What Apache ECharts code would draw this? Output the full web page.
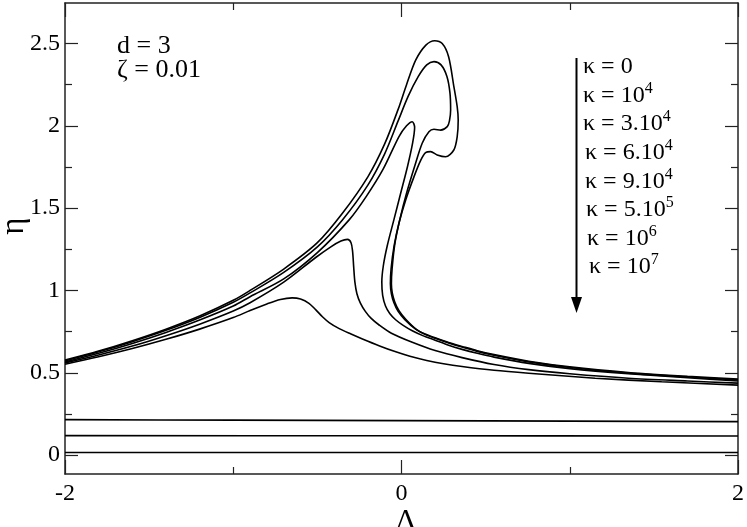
<!DOCTYPE html>
<html>
<head>
<meta charset="utf-8">
<script src="https://cdn.jsdelivr.net/npm/echarts@6/dist/echarts.min.js"></script>
<style>html,body{margin:0;padding:0;background:#fff;}#c{width:747px;height:527px;}</style>
</head>
<body>
<div id="c"></div>
<script>
// ---- data (x = Λ, y = η) ----
var kappa0 = [[-2,0.577],[-1.8,0.632],[-1.6,0.695],[-1.4,0.765],[-1.2,0.845],[-1.0,0.94],[-0.9,1.0],[-0.7,1.13],[-0.5,1.29],[-0.35,1.47],[-0.2,1.69],[-0.1,1.89],[-0.02,2.1],[0.03,2.25],[0.085,2.40],[0.145,2.49],[0.197,2.517],[0.242,2.50],[0.28,2.42],[0.311,2.24],[0.331,2.116],[0.337,2.035],[0.331,1.934],[0.311,1.853],[0.262,1.812],[0.212,1.823],[0.173,1.843],[0.143,1.837],[0.114,1.79],[0.074,1.69],[0.025,1.55],[-0.015,1.41],[-0.044,1.27],[-0.062,1.13],[-0.066,1.04],[-0.06,0.98],[-0.045,0.925],[-0.02,0.873],[0.02,0.823],[0.084,0.765],[0.14,0.735],[0.2,0.712],[0.28,0.684],[0.36,0.66],[0.45,0.634],[0.55,0.61],[0.756,0.57],[1.0,0.536],[1.348,0.502],[1.7,0.478],[2,0.462]];
var kappa1e4 = [[-2,0.572],[-1.8,0.627],[-1.6,0.689],[-1.4,0.758],[-1.2,0.836],[-1.0,0.928],[-0.9,0.985],[-0.7,1.11],[-0.5,1.265],[-0.35,1.43],[-0.2,1.64],[-0.1,1.83],[-0.02,2.03],[0.04,2.18],[0.1,2.3],[0.15,2.37],[0.193,2.39],[0.235,2.37],[0.27,2.30],[0.288,2.2],[0.292,2.096],[0.285,2.03],[0.272,1.995],[0.233,1.974],[0.193,1.979],[0.163,1.964],[0.123,1.894],[0.08,1.76],[0.03,1.59],[-0.01,1.43],[-0.04,1.28],[-0.056,1.13],[-0.06,1.04],[-0.055,0.985],[-0.04,0.93],[-0.015,0.877],[0.025,0.825],[0.09,0.762],[0.14,0.733],[0.2,0.709],[0.28,0.681],[0.36,0.656],[0.45,0.63],[0.55,0.606],[0.756,0.566],[1.0,0.532],[1.348,0.498],[1.7,0.474],[2,0.457]];
var kappa3e4 = [[-2,0.565],[-1.8,0.618],[-1.6,0.678],[-1.4,0.745],[-1.2,0.82],[-1.0,0.905],[-0.9,0.962],[-0.7,1.07],[-0.5,1.23],[-0.31,1.43],[-0.21,1.57],[-0.11,1.735],[-0.015,1.935],[0.03,2.0],[0.064,2.025],[0.078,1.99],[0.065,1.89],[0.035,1.75],[-0.005,1.59],[-0.045,1.43],[-0.085,1.27],[-0.108,1.15],[-0.117,1.05],[-0.112,0.97],[-0.095,0.905],[-0.07,0.86],[-0.035,0.822],[0.01,0.788],[0.064,0.755],[0.13,0.724],[0.2,0.698],[0.28,0.667],[0.36,0.642],[0.45,0.618],[0.55,0.595],[0.756,0.557],[1.0,0.525],[1.348,0.494],[1.7,0.47],[2,0.45]];
var kappa6e4 = [[-2,0.56],[-1.8,0.608],[-1.6,0.662],[-1.4,0.725],[-1.2,0.795],[-1.0,0.875],[-0.9,0.925],[-0.7,1.05],[-0.51,1.2],[-0.42,1.265],[-0.36,1.3],[-0.321,1.31],[-0.3,1.29],[-0.291,1.24],[-0.284,1.14],[-0.277,1.05],[-0.265,0.98],[-0.245,0.925],[-0.215,0.873],[-0.18,0.83],[-0.133,0.79],[-0.06,0.74],[0.064,0.685],[0.2,0.635],[0.36,0.592],[0.55,0.55],[0.756,0.519],[1.0,0.494],[1.348,0.467],[1.7,0.45],[2,0.437]];
var kappa9e4 = [[-2,0.552],[-1.8,0.597],[-1.6,0.647],[-1.4,0.703],[-1.2,0.765],[-1.0,0.835],[-0.9,0.878],[-0.8,0.918],[-0.72,0.945],[-0.65,0.955],[-0.6,0.948],[-0.55,0.922],[-0.509,0.882],[-0.47,0.84],[-0.43,0.805],[-0.37,0.768],[-0.3,0.735],[-0.232,0.705],[-0.13,0.663],[-0.034,0.627],[0.05,0.6],[0.15,0.575],[0.25,0.555],[0.36,0.538],[0.55,0.515],[0.756,0.497],[1.151,0.467],[1.546,0.445],[2,0.425]];
var kappa5e5 = [[-2,0.215],[-1,0.212],[0,0.209],[1,0.206],[2,0.203]];
var kappa1e6 = [[-2,0.118],[0,0.117],[2,0.116]];
var kappa1e7 = [[-2,0.016],[0,0.016],[2,0.016]];

var xMajorTicks = [-2, 0, 2];
var xMinorTicks = [-1, 1];
var yMajorTicks = [0, 0.5, 1, 1.5, 2, 2.5];
var yMinorTicks = [0.25, 0.75, 1.25, 1.75, 2.25];
var kappaLabels = [['κ = 0',''],['κ = 10','4'],['κ = 3.10','4'],['κ = 6.10','4'],['κ = 9.10','4'],['κ = 5.10','5'],['κ = 10','6'],['κ = 10','7']];
var infoLabels = ['d = 3', 'ζ = 0.01'];

var seriesList = [kappa0, kappa1e4, kappa3e4, kappa6e4, kappa9e4, kappa5e5, kappa1e6, kappa1e7];

var FONT = '"Liberation Serif","Times New Roman",serif';
var X_MIN = -2, X_MAX = 2, Y_MIN = -0.115, Y_MAX = 2.746;
var axisColor = '#222';

function xAxisDef(pos, ticks, len, showLabel, showLine) {
  return {
    type: 'value', position: pos, min: X_MIN, max: X_MAX,
    axisLine: {show: showLine, onZero: false, lineStyle: {color: axisColor, width: 1.5}},
    axisTick: {show: true, inside: true, length: len, customValues: ticks, lineStyle: {color: axisColor, width: 1.2}},
    axisLabel: {show: showLabel, customValues: ticks, margin: 8, fontFamily: FONT, fontSize: 24, color: '#000',
      formatter: function (v) { return String(v); }},
    splitLine: {show: false}
  };
}
function yAxisDef(pos, ticks, len, showLabel, showLine) {
  return {
    type: 'value', position: pos, min: Y_MIN, max: Y_MAX,
    axisLine: {show: showLine, onZero: false, lineStyle: {color: axisColor, width: 1.5}},
    axisTick: {show: true, inside: true, length: len, customValues: ticks, lineStyle: {color: axisColor, width: 1.2}},
    axisLabel: {show: showLabel, customValues: ticks, margin: 5, fontFamily: FONT, fontSize: 24, color: '#000',
      formatter: function (v) { return String(v); }},
    splitLine: {show: false}
  };
}

var graphics = [];
// axis names
graphics.push({type: 'text', x: 406, y: 521, style: {text: 'Λ', font: '30px ' + FONT, fill: '#000', align: 'center', verticalAlign: 'middle'}});
graphics.push({type: 'text', x: 14, y: 226, rotation: Math.PI / 2, style: {text: 'η', font: '33px ' + FONT, fill: '#000', align: 'center', verticalAlign: 'middle'}});
// info
graphics.push({type: 'text', x: 117, y: 46, style: {text: infoLabels[0], font: '26px ' + FONT, fill: '#000', align: 'left', verticalAlign: 'middle'}});
graphics.push({type: 'text', x: 117, y: 70, style: {text: infoLabels[1], font: '26px ' + FONT, fill: '#000', align: 'left', verticalAlign: 'middle'}});
// kappa legend (rich text with superscript)
var kx = [583, 583, 583, 585, 585, 586, 587, 589];
for (var i = 0; i < kappaLabels.length; i++) {
  var center = 67 + i * 28.6;
  var txt = '{m|' + kappaLabels[i][0] + '}' + (kappaLabels[i][1] ? '{s|' + kappaLabels[i][1] + '}' : '');
  graphics.push({type: 'text', x: kx[i], y: center, style: {
    text: txt, fill: '#000', align: 'left', verticalAlign: 'middle',
    rich: {
      m: {fontFamily: FONT, fontSize: 24, lineHeight: 30, fill: '#000', verticalAlign: 'middle'},
      s: {fontFamily: FONT, fontSize: 16, lineHeight: 16, fill: '#000', verticalAlign: 'top'}
    }
  }});
}
// arrow
graphics.push({type: 'line', shape: {x1: 576.5, y1: 58, x2: 576.5, y2: 300}, style: {stroke: '#000', lineWidth: 2}});
graphics.push({type: 'polygon', shape: {points: [[571, 297], [582, 297], [576.5, 313]]}, style: {fill: '#000'}});

var chart = echarts.init(document.getElementById('c'), null, {renderer: 'canvas'});
chart.setOption({
  animation: false,
  backgroundColor: '#fff',
  grid: {left: 65, right: 7, top: 3, bottom: 53, containLabel: false},
  xAxis: [
    xAxisDef('bottom', xMajorTicks, 14, true, true),
    xAxisDef('bottom', xMinorTicks, 7, false, false),
    xAxisDef('top', xMajorTicks, 14, false, true),
    xAxisDef('top', xMinorTicks, 7, false, false)
  ],
  yAxis: [
    yAxisDef('left', yMajorTicks, 13, true, true),
    yAxisDef('left', yMinorTicks, 7, false, false),
    yAxisDef('right', yMajorTicks, 13, false, true),
    yAxisDef('right', yMinorTicks, 7, false, false)
  ],
  series: seriesList.map(function (d) {
    return {type: 'line', data: d, xAxisIndex: 0, yAxisIndex: 0, showSymbol: false, symbol: 'none', smooth: 0.3,
      lineStyle: {color: '#000', width: 1.6}, silent: true};
  }),
  graphic: graphics
});
</script>
</body>
</html>
